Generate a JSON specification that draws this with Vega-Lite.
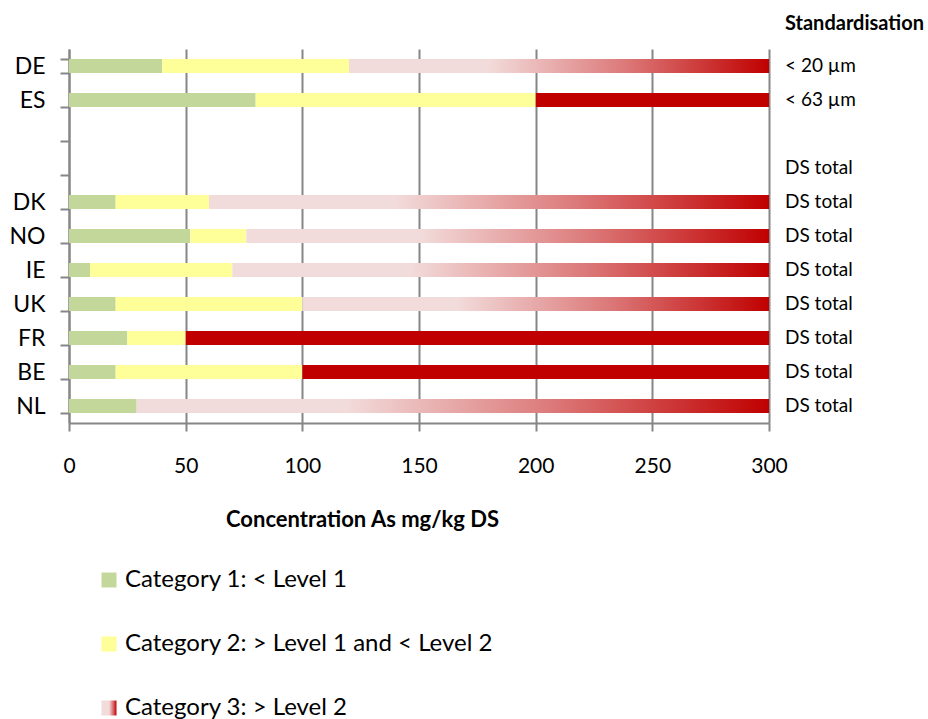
{
  "$schema": "https://vega.github.io/schema/vega-lite/v6.json",
  "autosize": "none",
  "width": 700,
  "height": 374,
  "padding": {"left": 69, "top": 49, "right": 159, "bottom": 296},
  "background": "white",
  "config": {"view": {"stroke": null}, "font": "Lato"},
  "title": {"text": "Standardisation", "anchor": "start", "frame": "group", "dx": 716, "offset": 4, "fontSize": 20, "fontWeight": "bold", "font": "Lato", "color": "black"},
  "datasets": {
    "bars": [
      {"country": "DE", "category": "Category 1: < Level 1", "start": 0, "end": 40},
      {"country": "DE", "category": "Category 2: > Level 1 and < Level 2", "start": 40, "end": 120},
      {"country": "DE", "category": "Category 3: > Level 2", "start": 120, "end": 300},
      {"country": "ES", "category": "Category 1: < Level 1", "start": 0, "end": 80},
      {"country": "ES", "category": "Category 2: > Level 1 and < Level 2", "start": 80, "end": 200},
      {"country": "ES", "category": "Category 3: > Level 2 (solid)", "start": 200, "end": 300},
      {"country": "DK", "category": "Category 1: < Level 1", "start": 0, "end": 20},
      {"country": "DK", "category": "Category 2: > Level 1 and < Level 2", "start": 20, "end": 60},
      {"country": "DK", "category": "Category 3: > Level 2", "start": 60, "end": 300},
      {"country": "NO", "category": "Category 1: < Level 1", "start": 0, "end": 52},
      {"country": "NO", "category": "Category 2: > Level 1 and < Level 2", "start": 52, "end": 76},
      {"country": "NO", "category": "Category 3: > Level 2", "start": 76, "end": 300},
      {"country": "IE", "category": "Category 1: < Level 1", "start": 0, "end": 9},
      {"country": "IE", "category": "Category 2: > Level 1 and < Level 2", "start": 9, "end": 70},
      {"country": "IE", "category": "Category 3: > Level 2", "start": 70, "end": 300},
      {"country": "UK", "category": "Category 1: < Level 1", "start": 0, "end": 20},
      {"country": "UK", "category": "Category 2: > Level 1 and < Level 2", "start": 20, "end": 100},
      {"country": "UK", "category": "Category 3: > Level 2", "start": 100, "end": 300},
      {"country": "FR", "category": "Category 1: < Level 1", "start": 0, "end": 25},
      {"country": "FR", "category": "Category 2: > Level 1 and < Level 2", "start": 25, "end": 50},
      {"country": "FR", "category": "Category 3: > Level 2 (solid)", "start": 50, "end": 300},
      {"country": "BE", "category": "Category 1: < Level 1", "start": 0, "end": 20},
      {"country": "BE", "category": "Category 2: > Level 1 and < Level 2", "start": 20, "end": 100},
      {"country": "BE", "category": "Category 3: > Level 2 (solid)", "start": 100, "end": 300},
      {"country": "NL", "category": "Category 1: < Level 1", "start": 0, "end": 29},
      {"country": "NL", "category": "Category 3: > Level 2", "start": 29, "end": 300}
    ],
    "standardisation": [
      {"country": "DE", "label": "< 20 µm"},
      {"country": "ES", "label": "< 63 µm"},
      {"country": "gap2", "label": "DS total"},
      {"country": "DK", "label": "DS total"},
      {"country": "NO", "label": "DS total"},
      {"country": "IE", "label": "DS total"},
      {"country": "UK", "label": "DS total"},
      {"country": "FR", "label": "DS total"},
      {"country": "BE", "label": "DS total"},
      {"country": "NL", "label": "DS total"}
    ]
  },
  "layer": [
    {
      "data": {"name": "bars"},
      "mark": {"type": "bar"},
      "encoding": {
        "y": {
          "field": "country", "type": "nominal",
          "scale": {"domain": ["DE", "ES", "gap1", "gap2", "DK", "NO", "IE", "UK", "FR", "BE", "NL"], "paddingInner": 0.588, "paddingOuter": 0.294},
          "axis": {"title": null, "labelExpr": "datum.value == 'gap1' || datum.value == 'gap2' ? '' : datum.value", "tickBand": "extent", "domainColor": "#868686", "domainWidth": 2, "tickColor": "#868686", "tickWidth": 2, "tickSize": 9, "labelFontSize": 23, "labelColor": "black", "labelPadding": 15, "labelFont": "Lato", "grid": false}
        },
        "x": {
          "field": "start", "type": "quantitative",
          "scale": {"domain": [0, 300], "nice": false},
          "axis": {"title": "Concentration As mg/kg DS", "values": [0, 50, 100, 150, 200, 250, 300], "grid": true, "gridColor": "#868686", "gridWidth": 2, "domainColor": "#868686", "domainWidth": 2, "tickColor": "#868686", "tickWidth": 2, "tickSize": 8, "labelFontSize": 21, "labelFont": "Lato", "labelPadding": 24, "labelColor": "black", "labelFlush": false, "titleFont": "Lato", "titleFontSize": 22, "titleFontWeight": "bold", "titleX": 293, "titleY": 96, "titleBaseline": "middle", "titleColor": "black"}
        },
        "x2": {"field": "end"},
        "color": {
          "condition": {
            "test": "datum.category === 'Category 3: > Level 2'",
            "value": {"gradient": "linear", "x1": 0, "y1": 0, "x2": 1, "y2": 0, "stops": [
              {"offset": 0, "color": "#f2dcdb"},
              {"offset": 0.33, "color": "#f2dcdb"},
              {"offset": 0.66, "color": "#dc7878"},
              {"offset": 1, "color": "#c00000"}
            ]}
          },
          "field": "category", "type": "nominal",
          "scale": {
            "domain": ["Category 1: < Level 1", "Category 2: > Level 1 and < Level 2", "Category 3: > Level 2", "Category 3: > Level 2 (solid)"],
            "range": ["#c4d79b", "#ffff99", "#e6a6a6", "#c00000"]
          },
          "legend": null
        },
        "opacity": {
          "field": "category", "type": "nominal",
          "scale": {
            "domain": ["Category 1: < Level 1", "Category 2: > Level 1 and < Level 2", "Category 3: > Level 2"],
            "range": [1, 1, 1]
          },
          "legend": {
            "title": null, "orient": "none", "legendX": 28, "legendY": 519, "direction": "vertical",
            "values": ["Category 1: < Level 1", "Category 2: > Level 1 and < Level 2", "Category 3: > Level 2"],
            "symbolType": "square", "symbolSize": 225, "symbolStrokeWidth": 0,
            "labelFontSize": 24, "labelFont": "Lato", "labelColor": "black", "rowPadding": 40, "labelOffset": 4, "labelLimit": 600,
            "encoding": {
              "symbols": {
                "fill": {
                  "condition": {"test": "datum.value === 'Category 3: > Level 2'", "value": {"gradient": "linear", "x1": 0, "y1": 0, "x2": 1, "y2": 0, "stops": [
                    {"offset": 0, "color": "#f2dcdb"},
                    {"offset": 0.5, "color": "#f2dcdb"},
                    {"offset": 0.75, "color": "#dc7878"},
                    {"offset": 1, "color": "#c00000"}
                  ]}},
                  "value": {"expr": "scale('color', datum.value)"}
                },
                "fillOpacity": {"value": 1}
              }
            }
          }
        }
      }
    },
    {
      "data": {"name": "standardisation"},
      "mark": {"type": "text", "align": "left", "baseline": "middle", "dx": 16, "fontSize": 19, "font": "Lato", "color": "black"},
      "encoding": {
        "y": {"field": "country", "type": "nominal", "scale": {"domain": ["DE", "ES", "gap1", "gap2", "DK", "NO", "IE", "UK", "FR", "BE", "NL"]}},
        "x": {"datum": 300, "type": "quantitative"},
        "text": {"field": "label"}
      }
    }
  ]
}
